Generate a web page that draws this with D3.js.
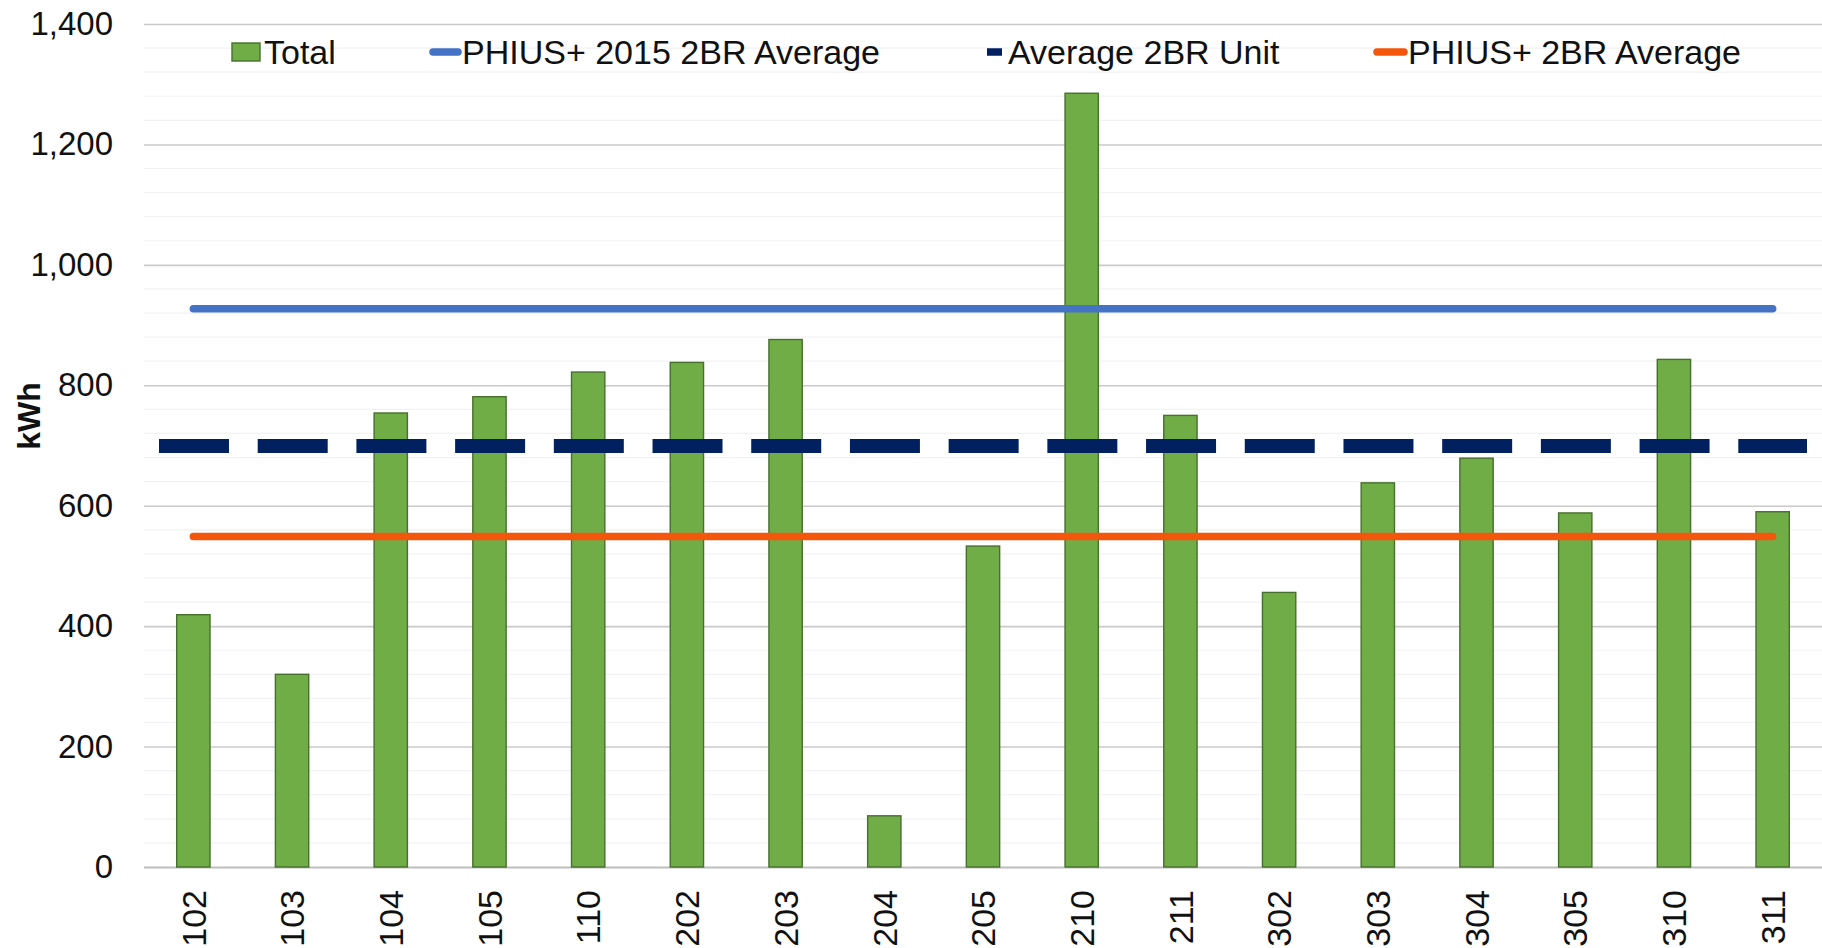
<!DOCTYPE html>
<html>
<head>
<meta charset="utf-8">
<script src="https://cdn.jsdelivr.net/npm/d3@7"></script>
<style>
  html, body { margin: 0; padding: 0; background: #ffffff; }
  svg { display: block; font-family: "Liberation Sans", Arial, sans-serif; }
</style>
</head>
<body>
<svg id="chart" width="1822" height="948"></svg>
<script>
// Units and their total consumption (kWh)
const categories = ["102", "103", "104", "105", "110", "202", "203", "204", "205",
                    "210", "211", "302", "303", "304", "305", "310", "311"];
const totals = [419, 320, 754, 781, 822, 838, 876, 85, 533,
                1285, 750, 456, 638, 679, 588, 843, 590];

// Reference levels (kWh)
const phius2015Average = 927;
const average2BRUnit = 699;
const phiusAverage = 549;

// Axis ticks
const yTicks = [0, 200, 400, 600, 800, 1000, 1200, 1400];
const yMinorStep = 40;

// Legend entries
const legendLabels = ["Total", "PHIUS+ 2015 2BR Average", "Average 2BR Unit", "PHIUS+ 2BR Average"];

const colors = {
  bar: "#70ad47",
  barStroke: "#476f2d",
  blue: "#4472c4",
  navy: "#002060",
  orange: "#f4570c",
  grid: "#cacaca",
  minor: "#f2f2f2",
  axis: "#bdbdbd",
  text: "#111111"
};

const svg = d3.select("#chart");
const margin = { left: 144, right: 0, top: 24, bottom: 81 };
const width = 1822, height = 948;
const plotW = width - margin.left - margin.right;
const plotBottom = height - margin.bottom;

const pad = 0.6625;
const x = d3.scaleBand()
  .domain(categories)
  .range([margin.left, width - margin.right])
  .paddingInner(pad)
  .paddingOuter(pad / 2);

const y = d3.scaleLinear()
  .domain([0, 1400])
  .range([plotBottom, margin.top]);

// Minor gridlines
const minorVals = d3.range(0, 1400 + 1, yMinorStep).filter(v => v % 200 !== 0);
svg.append("g")
  .selectAll("line")
  .data(minorVals)
  .join("line")
  .attr("x1", margin.left).attr("x2", width - margin.right)
  .attr("y1", d => y(d)).attr("y2", d => y(d))
  .attr("stroke", colors.minor)
  .attr("stroke-width", 1.2);

// Major gridlines + y axis labels
const yAxis = d3.axisLeft(y)
  .tickValues(yTicks)
  .tickFormat(d3.format(","))
  .tickSize(-plotW)
  .tickPadding(31);

const gy = svg.append("g")
  .attr("transform", `translate(${margin.left},0)`)
  .call(yAxis);
gy.select(".domain").remove();
gy.selectAll(".tick line")
  .attr("stroke", d => d === 0 ? colors.axis : colors.grid)
  .attr("stroke-width", d => d === 0 ? 2 : 1.6);
gy.selectAll(".tick text")
  .attr("fill", colors.text)
  .attr("font-size", 33)
  .attr("font-family", "Liberation Sans, Arial, sans-serif");

// Bars
svg.append("g")
  .selectAll("rect")
  .data(totals)
  .join("rect")
  .attr("x", (d, i) => x(categories[i]))
  .attr("y", d => y(d))
  .attr("width", x.bandwidth())
  .attr("height", d => y(0) - y(d))
  .attr("fill", colors.bar)
  .attr("stroke", colors.barStroke)
  .attr("stroke-width", 1.4);

// Reference lines
const firstCenter = x(categories[0]) + x.bandwidth() / 2;
const lastCenter = x(categories[categories.length - 1]) + x.bandwidth() / 2;
const step = x.step();

svg.append("line")
  .attr("x1", firstCenter).attr("x2", lastCenter)
  .attr("y1", y(phius2015Average)).attr("y2", y(phius2015Average))
  .attr("stroke", colors.blue)
  .attr("stroke-width", 7.5)
  .attr("stroke-linecap", "round");

const dashStart = margin.left + step * 0.152;
const dashEnd = width - margin.right - step * 0.152;
svg.append("line")
  .attr("x1", dashStart).attr("x2", dashEnd)
  .attr("y1", y(average2BRUnit)).attr("y2", y(average2BRUnit))
  .attr("stroke", colors.navy)
  .attr("stroke-width", 14)
  .attr("stroke-dasharray", `${step * 0.709} ${step * 0.291}`);

svg.append("line")
  .attr("x1", firstCenter).attr("x2", lastCenter)
  .attr("y1", y(phiusAverage)).attr("y2", y(phiusAverage))
  .attr("stroke", colors.orange)
  .attr("stroke-width", 7.5)
  .attr("stroke-linecap", "round");

// X axis labels (rotated)
const xAxis = d3.axisBottom(x).tickSize(0).tickPadding(0);
const gx = svg.append("g")
  .attr("transform", `translate(0,${plotBottom})`)
  .call(xAxis);
gx.select(".domain").remove();
gx.selectAll(".tick text")
  .attr("fill", colors.text)
  .attr("font-size", 34)
  .attr("font-family", "Liberation Sans, Arial, sans-serif")
  .attr("text-anchor", "end")
  .attr("transform", "rotate(-90)")
  .attr("x", -23)
  .attr("y", 0)
  .attr("dy", "0.36em");

// Y axis title
svg.append("text")
  .attr("transform", "translate(28,416) rotate(-90)")
  .attr("text-anchor", "middle")
  .attr("dy", "0.36em")
  .attr("font-size", 32)
  .attr("font-weight", "bold")
  .attr("fill", colors.text)
  .text("kWh");

// Legend
const legend = svg.append("g").attr("font-size", 34).attr("fill", colors.text);
const legendY = 52;
const items = [
  { label: legendLabels[0], type: "rect", x0: 232, x1: 260, color: colors.bar, tx: 264 },
  { label: legendLabels[1], type: "line", x0: 433, x1: 458, color: colors.blue, tx: 462 },
  { label: legendLabels[2], type: "line", x0: 987, x1: 1002, color: colors.navy, tx: 1008 },
  { label: legendLabels[3], type: "line", x0: 1377, x1: 1404, color: colors.orange, tx: 1408 }
];
items.forEach(it => {
  if (it.type === "rect") {
    legend.append("rect")
      .attr("x", it.x0).attr("y", legendY - 9)
      .attr("width", it.x1 - it.x0).attr("height", 18)
      .attr("fill", colors.bar)
      .attr("stroke", colors.barStroke)
      .attr("stroke-width", 1.4);
  } else {
    legend.append("line")
      .attr("x1", it.x0).attr("x2", it.x1)
      .attr("y1", legendY).attr("y2", legendY)
      .attr("stroke", it.color)
      .attr("stroke-width", 7.5)
      .attr("stroke-linecap", it.color === colors.navy ? "butt" : "round");
  }
  legend.append("text")
    .attr("x", it.tx)
    .attr("y", legendY)
    .attr("dy", "0.36em")
    .text(it.label);
});
</script>
</body>
</html>
